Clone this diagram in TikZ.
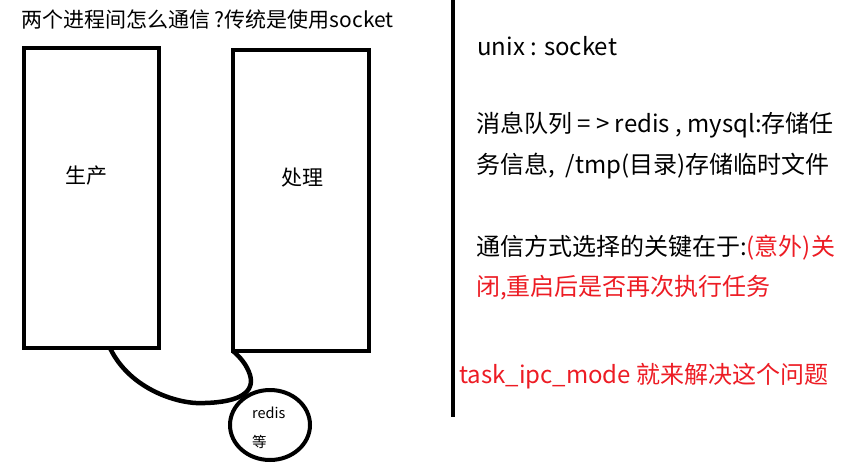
\documentclass[tikz,border=0pt]{standalone}
\usepackage{fontspec}
\setmainfont{Noto Sans CJK SC}
\definecolor{pred}{RGB}{237,28,36}
\begin{document}
\begin{tikzpicture}[x=1pt,y=-1pt,
  box/.style={draw=black,line width=4.5pt},
  txt/.style={anchor=west,inner sep=0pt,font=\fontsize{24}{28}\selectfont},
  lbl/.style={inner sep=0pt,font=\fontsize{21}{24}\selectfont}]
\useasboundingbox (0,0) rectangle (859,466);
\fill[white] (0,0) rectangle (859,466);
\node[anchor=west,inner sep=0pt,font=\fontsize{21}{24}\selectfont] (title) at (21,20) {两个进程间怎么通信 ?传统是使用socket};
\draw[box] (24,48) rectangle (159,348);
\draw[box] (233,50) rectangle (369,351);
\coordinate (pl) at (110,348);
\coordinate (pr) at (233,351);
\node[lbl] (sc) at (86,176) {生产};
\node[lbl] (cl) at (302,178) {处理};
\draw[line width=4.5pt] (pl) .. controls (130,390) and (180,405) .. (205,403)
  .. controls (240,402) and (255,392) .. (250,375) .. controls (247,365) and (240,357) .. (pr);
\draw[line width=4pt] (270,425) ellipse (40 and 35);
\node[anchor=west,inner sep=0pt,font=\fontsize{14.5}{16}\selectfont] (rd) at (252,413) {redis};
\node[anchor=west,inner sep=0pt,font=\fontsize{14.5}{16}\selectfont] (dd) at (252,442) {等};
\coordinate (vt) at (453,0);
\coordinate (vb) at (453,417);
\draw[line width=4pt] (vt) -- (vb);
\node[txt] (u) at (477,46) {unix : socket};
\node[txt] (m1) at (476,125) {消息队列 = > redis , mysql:存储任};
\node[txt] (m2) at (476,166) {务信息,\ \ /tmp(目录)存储临时文件};
\node[txt] (t1) at (476,248) {通信方式选择的关键在于:\textcolor{pred}{(意外)关}};
\node[txt,text=pred] (t2) at (476,288) {闭,重启后是否再次执行任务};
\node[txt,text=pred] (tk) at (459,376) {task\_ipc\_mode 就来解决这个问题};
\end{tikzpicture}
\end{document}
